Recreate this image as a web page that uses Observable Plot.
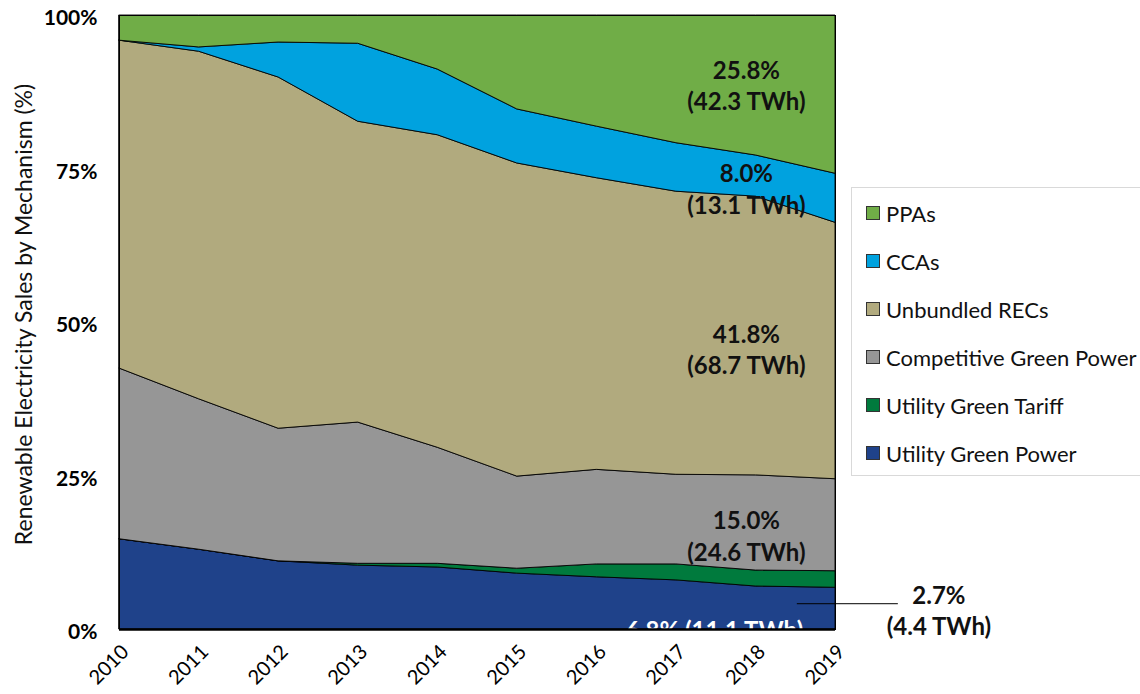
<!DOCTYPE html>
<html>
<head>
<meta charset="utf-8">
<script src="https://cdn.jsdelivr.net/npm/d3@7"></script>
<script src="https://cdn.jsdelivr.net/npm/@observablehq/plot@0.6"></script>
<style>
  html, body { margin: 0; padding: 0; background: #fff; }
  #wrap { position: relative; width: 1140px; height: 694px; overflow: hidden; font-family: Lato, "Open Sans", sans-serif; }
  #legend { position: absolute; left: 851px; top: 187px; width: 300px; height: 289px; border: 1px solid #d9d9d9; box-sizing: border-box; background: #fff; }
  .item { position: absolute; left: 14px; height: 24px; display: flex; align-items: center; font-size: 22px; color: #111; white-space: nowrap; }
  .sw { width: 14px; height: 14px; border: 1px solid #333; box-sizing: border-box; margin-right: 6px; }
  [aria-label="y-axis tick label"] text { font-weight: bold; }
</style>
</head>
<body>
<div id="wrap"><div id="chart"></div><div id="legend"></div></div>
<script>
const years = [2010, 2011, 2012, 2013, 2014, 2015, 2016, 2017, 2018, 2019];
const seriesNames = ["Utility Green Power", "Utility Green Tariff", "Competitive Green Power", "Unbundled RECs", "CCAs", "PPAs"];
const seriesColors = ["#1f428a", "#007a3d", "#969696", "#b1aa7e", "#00a2df", "#70ad47"];

// Shares (%) by mechanism
const utilityGreenPower = [14.7, 13.0, 11.1, 10.4, 10.1, 9.1, 8.5, 8.0, 7.0, 6.8];
const utilityGreenTariff = [0, 0, 0, 0.3, 0.6, 0.8, 2.1, 2.6, 2.6, 2.7];
const competitiveGreenPower = [27.8, 24.5, 21.6, 23.0, 18.9, 15.0, 15.4, 14.6, 15.5, 15.0];
const unbundledRECs = [53.4, 56.6, 57.2, 49.0, 50.9, 51.0, 47.5, 46.1, 45.4, 41.8];
const ccas = [0, 0.7, 5.7, 12.7, 10.7, 8.8, 8.4, 7.9, 6.7, 8.0];
const ppas = [4.1, 5.2, 4.4, 4.6, 8.8, 15.3, 18.1, 20.8, 22.8, 25.8];

const yTicks = [0, 0.25, 0.5, 0.75, 1];
const yTitle = "Renewable Electricity Sales by Mechanism (%)";

// Annotations
const noteText = ["25.8%\n(42.3 TWh)", "8.0%\n(13.1 TWh)", "41.8%\n(68.7 TWh)", "15.0%\n(24.6 TWh)", "2.7%\n(4.4 TWh)"];
const noteX = [2017.88, 2017.88, 2017.88, 2017.88, 2020.30];
const noteY = [0.888, 0.719, 0.458, 0.155, 0.033];
const whiteNote = "6.8% (11.1 TWh)";
const whiteNoteX = 2017.48;
const leaderX1 = 2018.52, leaderX2 = 2019.79, leaderY = 0.042;

const seriesValues = [utilityGreenPower, utilityGreenTariff, competitiveGreenPower, unbundledRECs, ccas, ppas];
const data = [];
seriesNames.forEach((s, i) => years.forEach((y, j) => data.push({year: y, series: s, value: seriesValues[i][j]})));
const notes = noteText.map((t, i) => ({t, x: noteX[i], y: noteY[i]}));

const chart = Plot.plot({
  width: 1140, height: 694,
  marginTop: 15, marginLeft: 119, marginRight: 305, marginBottom: 65,
  style: {fontFamily: "Lato, 'Open Sans', sans-serif", overflow: "visible", background: "white", color: "#000"},
  x: {domain: [2010, 2019]},
  y: {domain: [0, 1]},
  color: {domain: seriesNames, range: seriesColors},
  marks: [
    Plot.areaY(data, {x: "year", y: "value", fill: "series", stroke: "black", strokeWidth: 0.9, order: seriesNames, offset: "normalize"}),
    Plot.text([whiteNote], {x: whiteNoteX, y: 0, dy: 2, text: d => d, fill: "white", fontSize: 24, fontWeight: "bold", clip: true}),
    Plot.frame({stroke: "black", strokeWidth: 1}),
    Plot.ruleY([0], {stroke: "black", strokeWidth: 2.5}),
    Plot.axisY({ticks: yTicks, tickFormat: d3.format(".0%"), tickSize: 0, tickPadding: 22, dy: 3, fontSize: 21, label: null}),
    Plot.axisX({ticks: years, tickFormat: d => String(d), tickSize: 0, tickPadding: 19, dx: 6, tickRotate: -45, fontSize: 20, label: null}),
    Plot.text([yTitle], {frameAnchor: "left", textAnchor: "middle", dx: -95, dy: -8, rotate: -90, fontSize: 23, text: d => d, fill: "#111"}),
    Plot.text(notes, {x: "x", y: "y", text: "t", fontSize: 24, fontWeight: "bold", lineHeight: 1.33, fill: "#111"}),
    Plot.ruleY([leaderY], {x1: leaderX1, x2: leaderX2, stroke: "black", strokeWidth: 1})
  ]
});
document.getElementById("chart").appendChild(chart);

// Legend (top to bottom: reverse stack order)
const legend = document.getElementById("legend");
const rowTops = [13, 61, 109, 157, 205, 253];
seriesNames.slice().reverse().forEach((s, i) => {
  const it = document.createElement("div");
  it.className = "item";
  it.style.top = rowTops[i] + "px";
  const sw = document.createElement("span");
  sw.className = "sw";
  sw.style.background = seriesColors[seriesNames.indexOf(s)];
  it.appendChild(sw);
  it.appendChild(document.createTextNode(s));
  legend.appendChild(it);
});
</script>
</body>
</html>
